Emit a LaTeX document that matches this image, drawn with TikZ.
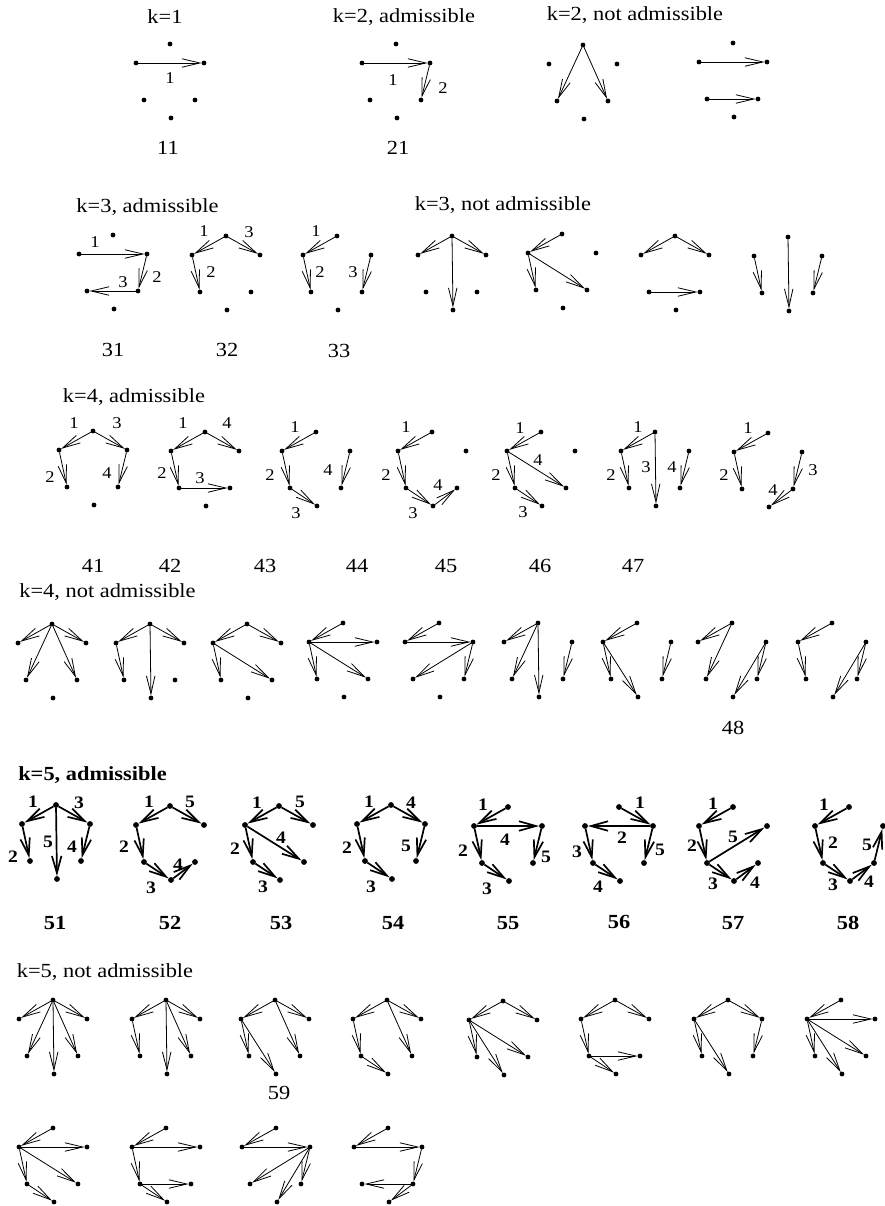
\documentclass[tikz,border=0pt]{standalone}
\usepackage{fontspec}
\setmainfont{Liberation Serif}[FakeStretch=1.12]
\usetikzlibrary{arrows.meta}
\tikzset{
 dot/.style={circle,fill,inner sep=0pt,outer sep=0pt,minimum size=4.8pt},
 bdot/.style={dot,minimum size=5.8pt},
 arr/.style={-{Straight Barb[length=18pt,width=8.5pt]},line width=0.8pt},
 barr/.style={-{Straight Barb[length=17pt,width=9.5pt]},line width=1.7pt},
 ttl/.style={font=\fontsize{20}{24}\selectfont,inner sep=0pt},
 bttl/.style={font=\fontsize{20}{24}\selectfont\bfseries,inner sep=0pt},
 lab/.style={font=\fontsize{16.5}{18}\selectfont,inner sep=0pt},
 blab/.style={font=\fontsize{17.5}{19}\selectfont\bfseries,inner sep=0pt},
}
\newcommand{\hexa}[4][dot]{%
 \node[#1] (#2T) at (#3,#4) {};
 \node[#1] (#2L) at (#3-34,#4+19) {};
 \node[#1] (#2R) at (#3+34,#4+19) {};
 \node[#1] (#2A) at (#3-26,#4+56) {};
 \node[#1] (#2C) at (#3+25,#4+56) {};
 \node[#1] (#2B) at (#3+1,#4+74) {};
}
\newcommand{\ed}[3]{\draw[arr] (#1#2) -- (#1#3);}
\newcommand{\edb}[3]{\draw[barr] (#1#2) -- (#1#3);}
\newcommand{\lb}[5][lab]{\node[#1] (#2) at (#3,#4) {#5};}
\begin{document}
\begin{tikzpicture}[x=1pt,y=-1pt]
\fill[white] (0,0) rectangle (885,1206);
\useasboundingbox (0,0) rectangle (885,1206);
% ---------- row 1
\lb[ttl]{t1}{165}{17}{k=1}
\lb[ttl]{t2}{404}{17}{k=2, admissible}
\lb[ttl]{t3}{635}{15}{k=2, not admissible}
\hexa{a}{170}{44} \ed{a}{L}{R} \lb{al1}{170}{78}{1}
\hexa{b}{396}{44} \ed{b}{L}{R} \ed{b}{R}{C} \lb{bl1}{393}{80}{1} \lb{bl2}{443}{88}{2}
\hexa{c}{583}{45} \ed{c}{T}{A} \ed{c}{T}{C}
\hexa{d}{733}{43} \ed{d}{L}{R} \ed{d}{A}{C}
\lb[ttl]{n11}{168}{148}{11}
\lb[ttl]{n21}{398}{148}{21}
% ---------- row 2
\lb[ttl]{t4}{147.5}{207}{k=3, admissible}
\lb[ttl]{t5}{503}{205}{k=3, not admissible}
\hexa{e}{113}{235} \ed{e}{L}{R} \ed{e}{R}{C} \ed{e}{C}{A}
 \lb{el1}{95}{242}{1} \lb{el2}{157}{277}{2} \lb{el3}{123}{282}{3}
\hexa{f}{226}{236} \ed{f}{T}{L} \ed{f}{L}{A} \ed{f}{T}{R}
 \lb{fl1}{204}{231}{1} \lb{fl2}{211}{272}{2} \lb{fl3}{249}{232}{3}
\hexa{g}{337}{236} \ed{g}{T}{L} \ed{g}{L}{A} \ed{g}{R}{C}
 \lb{gl1}{316}{231}{1} \lb{gl2}{320}{272}{2} \lb{gl3}{353}{272}{3}
\hexa{h}{452}{236} \ed{h}{T}{L} \ed{h}{T}{R} \ed{h}{T}{B}
\hexa{i}{562}{234} \ed{i}{T}{L} \ed{i}{L}{A} \ed{i}{L}{C}
\hexa{j}{675}{236} \ed{j}{T}{L} \ed{j}{T}{R} \ed{j}{A}{C}
\hexa{k}{788}{237} \ed{k}{L}{A} \ed{k}{T}{B} \ed{k}{R}{C}
\lb[ttl]{n31}{113}{350}{31}
\lb[ttl]{n32}{227}{350}{32}
\lb[ttl]{n33}{339}{351}{33}
% ---------- row 3
\lb[ttl]{t6}{134}{397}{k=4, admissible}
\hexa{m}{93}{431} \ed{m}{T}{L} \ed{m}{L}{A} \ed{m}{T}{R} \ed{m}{R}{C}
 \lb{ml1}{74}{423}{1} \lb{ml2}{50}{477}{2} \lb{ml3}{117}{423}{3} \lb{ml4}{107}{473}{4}
\hexa{n}{205}{432} \ed{n}{T}{L} \ed{n}{T}{R} \ed{n}{L}{A} \ed{n}{A}{C}
 \lb{nl1}{183}{423}{1} \lb{nl4}{227}{423}{4} \lb{nl2}{162}{473}{2} \lb{nl3}{200}{478}{3}
\hexa{o}{316}{432} \ed{o}{T}{L} \ed{o}{L}{A} \ed{o}{A}{B} \ed{o}{R}{C}
 \lb{ol1}{295}{427}{1} \lb{ol2}{270}{475}{2} \lb{ol3}{296}{513}{3} \lb{ol4}{328}{470}{4}
\hexa{p}{432}{432} \ed{p}{T}{L} \ed{p}{L}{A} \ed{p}{A}{B} \ed{p}{B}{C}
 \lb{pl1}{406}{427}{1} \lb{pl2}{386}{475}{2} \lb{pl3}{413}{513}{3} \lb{pl4}{438}{485}{4}
\hexa{q}{541}{432} \ed{q}{T}{L} \ed{q}{L}{A} \ed{q}{A}{B} \ed{q}{L}{C}
 \lb{ql1}{520}{428}{1} \lb{ql2}{496}{475}{2} \lb{ql3}{523}{512}{3} \lb{ql4}{538}{460}{4}
\hexa{r}{655}{432} \ed{r}{T}{L} \ed{r}{L}{A} \ed{r}{T}{B} \ed{r}{R}{C}
 \lb{rl1}{638}{427}{1} \lb{rl2}{611}{475}{2} \lb{rl3}{646}{467}{3} \lb{rl4}{672}{467}{4}
\hexa{s}{768}{433} \ed{s}{T}{L} \ed{s}{L}{A} \ed{s}{R}{C} \ed{s}{C}{B}
 \lb{sl1}{748}{428}{1} \lb{sl2}{724}{475}{2} \lb{sl3}{813}{470}{3} \lb{sl4}{773}{490}{4}
\lb[ttl]{n41}{93}{566}{41}
\lb[ttl]{n42}{170}{566}{42}
\lb[ttl]{n43}{265}{566}{43}
\lb[ttl]{n44}{357}{566}{44}
\lb[ttl]{n45}{446}{566}{45}
\lb[ttl]{n46}{540}{566}{46}
\lb[ttl]{n47}{633}{566}{47}
% ---------- row 4
\lb[ttl]{t7}{107.5}{592}{k=4, not admissible}
\hexa{t}{52}{624} \ed{t}{T}{L} \ed{t}{T}{R} \ed{t}{T}{A} \ed{t}{T}{C}
\hexa{u}{150}{624} \ed{u}{T}{L} \ed{u}{T}{R} \ed{u}{T}{B} \ed{u}{L}{A}
\hexa{v}{247}{624} \ed{v}{T}{L} \ed{v}{T}{R} \ed{v}{L}{A} \ed{v}{L}{C}
\hexa{w}{343}{623} \ed{w}{T}{L} \ed{w}{L}{R} \ed{w}{L}{A} \ed{w}{L}{C}
\hexa{x}{439}{623} \ed{x}{T}{L} \ed{x}{L}{R} \ed{x}{R}{A} \ed{x}{R}{C}
\hexa{y}{538}{623} \ed{y}{T}{L} \ed{y}{T}{A} \ed{y}{T}{B} \ed{y}{R}{C}
\hexa{z}{637}{623} \ed{z}{T}{L} \ed{z}{L}{A} \ed{z}{L}{B} \ed{z}{R}{C}
\hexa{aa}{732}{623} \ed{aa}{T}{L} \ed{aa}{T}{A} \ed{aa}{R}{C} \ed{aa}{R}{B}
\hexa{ab}{832}{623} \ed{ab}{T}{L} \ed{ab}{L}{A} \ed{ab}{R}{C} \ed{ab}{R}{B}
\lb[ttl]{n48}{733}{728}{48}
% ---------- row 5 (bold)
\lb[bttl]{t8}{92.5}{775}{k=5, admissible}
\hexa[bdot]{ba}{56}{805} \edb{ba}{T}{L} \edb{ba}{L}{A} \edb{ba}{T}{R} \edb{ba}{R}{C} \edb{ba}{T}{B}
 \lb[blab]{bal1}{33}{802}{1} \lb[blab]{bal2}{13}{857}{2} \lb[blab]{bal3}{79}{803}{3} \lb[blab]{bal4}{72}{847}{4} \lb[blab]{bal5}{48}{842}{5}
\hexa[bdot]{bb}{170}{806} \edb{bb}{T}{L} \edb{bb}{T}{R} \edb{bb}{L}{A} \edb{bb}{A}{B} \edb{bb}{B}{C}
 \lb[blab]{bbl1}{149}{802}{1} \lb[blab]{bbl5}{190}{802}{5} \lb[blab]{bbl2}{124}{847}{2} \lb[blab]{bbl3}{151}{888}{3} \lb[blab]{bbl4}{178}{865}{4}
\hexa[bdot]{bc}{279}{806} \edb{bc}{T}{L} \edb{bc}{T}{R} \edb{bc}{L}{A} \edb{bc}{A}{B} \edb{bc}{L}{C}
 \lb[blab]{bcl1}{257}{803}{1} \lb[blab]{bcl5}{300}{802}{5} \lb[blab]{bcl2}{235}{849}{2} \lb[blab]{bcl3}{263}{887}{3} \lb[blab]{bcl4}{281}{838}{4}
\hexa[bdot]{bd}{391}{805} \edb{bd}{T}{L} \edb{bd}{T}{R} \edb{bd}{L}{A} \edb{bd}{A}{B} \edb{bd}{R}{C}
 \lb[blab]{bdl1}{369}{802}{1} \lb[blab]{bdl4}{411}{803}{4} \lb[blab]{bdl2}{347}{848}{2} \lb[blab]{bdl3}{371}{887}{3} \lb[blab]{bdl5}{406}{846}{5}
\hexa[bdot]{be}{508}{807} \edb{be}{T}{L} \edb{be}{L}{R} \edb{be}{L}{A} \edb{be}{A}{B} \edb{be}{R}{C}
 \lb[blab]{bel1}{483}{805}{1} \lb[blab]{bel4}{505}{840}{4} \lb[blab]{bel2}{463}{851}{2} \lb[blab]{bel3}{487}{889}{3} \lb[blab]{bel5}{546}{857}{5}
\hexa[bdot]{bf}{619}{807} \edb{bf}{T}{R} \edb{bf}{R}{L} \edb{bf}{L}{A} \edb{bf}{A}{B} \edb{bf}{R}{C}
 \lb[blab]{bfl1}{640}{803}{1} \lb[blab]{bfl2}{622}{838}{2} \lb[blab]{bfl3}{577}{852}{3} \lb[blab]{bfl4}{598}{887}{4} \lb[blab]{bfl5}{660}{850}{5}
\hexa[bdot]{bg}{733}{807} \edb{bg}{T}{L} \edb{bg}{L}{A} \edb{bg}{A}{B} \edb{bg}{B}{C} \edb{bg}{A}{R}
 \lb[blab]{bgl1}{713}{804}{1} \lb[blab]{bgl2}{692}{846}{2} \lb[blab]{bgl3}{713}{884}{3} \lb[blab]{bgl4}{755}{883}{4} \lb[blab]{bgl5}{733}{837}{5}
\hexa[bdot]{bh}{849}{807} \edb{bh}{T}{L} \edb{bh}{L}{A} \edb{bh}{A}{B} \edb{bh}{B}{C} \edb{bh}{C}{R}
 \lb[blab]{bhl1}{824}{805}{1} \lb[blab]{bhl2}{833}{843}{2} \lb[blab]{bhl3}{833}{885}{3} \lb[blab]{bhl4}{869}{882}{4} \lb[blab]{bhl5}{867}{845}{5}
\lb[bttl]{n51}{55}{923}{51}
\lb[bttl]{n52}{170}{923}{52}
\lb[bttl]{n53}{281}{923}{53}
\lb[bttl]{n54}{393}{923}{54}
\lb[bttl]{n55}{508}{923}{55}
\lb[bttl]{n56}{619}{922}{56}
\lb[bttl]{n57}{733}{923}{57}
\lb[bttl]{n58}{848}{923}{58}
% ---------- row 6
\lb[ttl]{t9}{105}{972}{k=5, not admissible}
\hexa{ca}{53}{1000} \ed{ca}{T}{L} \ed{ca}{T}{R} \ed{ca}{T}{A} \ed{ca}{T}{B} \ed{ca}{T}{C}
\hexa{cb}{166}{1000} \ed{cb}{T}{L} \ed{cb}{T}{R} \ed{cb}{L}{A} \ed{cb}{T}{B} \ed{cb}{T}{C}
\hexa{cc}{275}{1000} \ed{cc}{T}{L} \ed{cc}{T}{R} \ed{cc}{L}{A} \ed{cc}{L}{B} \ed{cc}{T}{C}
\hexa{cd}{387}{1000} \ed{cd}{T}{L} \ed{cd}{T}{R} \ed{cd}{L}{A} \ed{cd}{A}{B} \ed{cd}{T}{C}
\hexa{ce}{503}{1001} \ed{ce}{T}{L} \ed{ce}{T}{R} \ed{ce}{L}{A} \ed{ce}{L}{B} \ed{ce}{L}{C}
\hexa{cf}{615}{1000} \ed{cf}{T}{L} \ed{cf}{T}{R} \ed{cf}{L}{A} \ed{cf}{A}{C} \ed{cf}{A}{B}
\hexa{cg}{728}{1000} \ed{cg}{T}{L} \ed{cg}{T}{R} \ed{cg}{L}{A} \ed{cg}{L}{B} \ed{cg}{R}{C}
\hexa{ch}{841}{1000} \ed{ch}{T}{L} \ed{ch}{L}{R} \ed{ch}{L}{A} \ed{ch}{L}{B} \ed{ch}{L}{C}
\lb[ttl]{n59}{279}{1093}{59}
% ---------- row 7
\hexa{da}{53}{1128} \ed{da}{T}{L} \ed{da}{L}{R} \ed{da}{L}{A} \ed{da}{L}{C} \ed{da}{A}{B}
\hexa{db}{166}{1128} \ed{db}{T}{L} \ed{db}{L}{R} \ed{db}{L}{A} \ed{db}{A}{C} \ed{db}{A}{B}
\hexa{dc}{276}{1128} \ed{dc}{T}{L} \ed{dc}{L}{R} \ed{dc}{R}{A} \ed{dc}{R}{C} \ed{dc}{R}{B}
\hexa{dd}{388}{1128} \ed{dd}{T}{L} \ed{dd}{L}{R} \ed{dd}{R}{C} \ed{dd}{C}{A} \ed{dd}{C}{B}
\end{tikzpicture}
\end{document}
